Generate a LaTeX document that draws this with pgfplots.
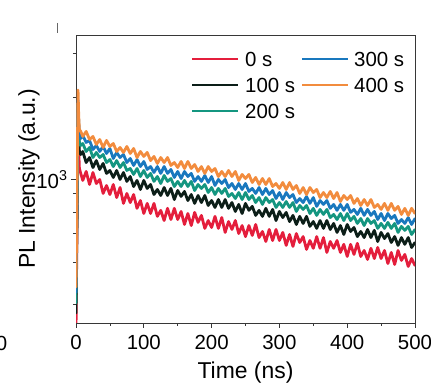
\documentclass[border=0pt]{standalone}
\usepackage{fontspec}
\setmainfont{Liberation Sans}
\usepackage{pgfplots}
\pgfplotsset{compat=1.18}
\usepackage{pgfplotstable}
\definecolor{cR}{RGB}{228,30,60}
\definecolor{cK}{RGB}{12,30,24}
\definecolor{cG}{RGB}{20,150,128}
\definecolor{cB}{RGB}{25,120,190}
\definecolor{cO}{RGB}{242,140,62}
\definecolor{axc}{RGB}{55,55,55}

\pgfplotstableread{
t r k g b o
0 285 328 357 390 408
3 1580 1790 1860 1940 2110
4 1280 1450 1520 1600 1700
5 1096 1263 1362 1456 1518
7 1052 1232 1328 1408 1493
10 992 1263 1350 1444 1432
15 1069 1152 1263 1362 1493
20 959 1201 1306 1385 1396
25 1060 1105 1201 1284 1432
30 967 1171 1253 1328 1339
35 1000 1087 1201 1263 1396
40 890 1143 1232 1317 1306
45 951 1052 1152 1242 1385
50 882 1078 1181 1295 1317
55 959 1017 1114 1191 1350
60 860 1078 1171 1253 1263
65 935 1000 1105 1201 1306
70 819 1060 1152 1232 1253
75 890 984 1078 1152 1317
80 825 1025 1096 1191 1242
85 882 943 1043 1124 1295
90 786 992 1096 1181 1201
95 839 920 1025 1114 1263
100 753 992 1078 1162 1212
105 819 928 1017 1087 1253
110 753 959 1052 1114 1171
115 819 882 984 1060 1212
120 735 920 1025 1114 1143
125 773 875 967 1052 1201
130 710 935 1034 1114 1152
135 786 875 984 1052 1201
140 716 928 1008 1087 1124
145 786 846 943 1017 1152
150 716 912 984 1069 1105
155 766 868 943 1008 1162
160 687 905 992 1069 1096
165 753 839 943 1025 1162
170 681 882 984 1052 1096
175 760 819 912 984 1133
180 699 875 959 1025 1069
185 741 825 928 984 1114
190 665 875 959 1034 1052
195 710 805 897 975 1114
200 670 839 935 1025 1069
205 735 792 882 951 1096
210 665 846 928 1000 1025
215 728 792 890 967 1069
220 643 846 928 1000 1025
225 704 786 868 935 1078
230 659 825 890 967 1025
235 710 766 853 920 1069
240 637 812 897 967 992
245 681 753 846 920 1043
250 621 819 897 967 1008
255 681 773 846 905 1043
260 627 799 875 928 975
265 687 741 825 890 1017
270 616 773 860 935 959
275 648 735 812 882 1008
280 596 786 860 928 959
285 659 735 825 882 1008
290 601 779 846 912 943
295 659 710 792 853 967
300 601 766 825 897 928
305 643 728 792 846 975
310 577 760 832 897 920
315 632 704 792 860 975
320 572 741 825 882 920
325 637 687 766 825 951
330 591 735 805 853 890
335 621 693 779 825 935
340 558 735 805 868 882
345 601 676 753 819 935
350 563 704 786 860 897
355 621 665 741 799 920
360 563 710 779 839 860
365 616 665 747 812 897
370 544 710 779 839 860
375 596 659 728 786 905
380 563 693 747 812 853
385 601 643 716 773 897
390 544 681 753 812 832
395 582 632 710 773 875
400 526 687 753 812 846
405 582 648 710 760 875
410 535 670 735 779 819
415 587 621 693 747 853
420 526 648 722 786 805
425 553 616 681 741 846
430 513 659 722 779 805
435 563 616 693 741 846
440 517 654 710 766 792
445 567 596 665 716 812
450 517 643 693 753 779
455 553 611 665 710 819
460 496 637 699 753 773
465 544 591 665 722 819
470 492 621 693 741 773
475 553 577 643 693 799
480 509 616 676 716 747
485 535 582 654 693 786
490 484 616 676 728 741
495 517 567 632 687 786
500 488 591 659 722 753
}\pldata

\begin{document}
\begin{tikzpicture}
\useasboundingbox (0,0) rectangle (431bp,388bp);
\begin{axis}[
  at={(76bp,65bp)}, anchor=south west,
  scale only axis, width=339bp, height=288bp,
  xmin=0, xmax=500, ymode=log, ymin=302, ymax=3339,
  xtick={0,100,200,300,400,500}, minor x tick num=1,
  ytick={1000}, yticklabels={10\textsuperscript{3}},
  minor ytick={354,502,640,762,894,1990,2873},
  tick align=outside, xtick pos=bottom, ytick pos=left,
  major tick length=5bp, minor tick length=3bp,
  tick style={axc, line width=0.8bp},
  axis line style={axc, line width=0.9bp},
  /pgf/number format/assume math mode=true,
  ticklabel style={font=\fontsize{20.5}{24}\selectfont},
  xticklabel style={yshift=-4bp},
  xlabel={Time (ns)}, ylabel={PL Intensity (a.u.)},
  every axis x label/.style={at={(axis description cs:0.5,-0.1736)}, anchor=center, font=\fontsize{23}{27}\selectfont},
  every axis y label/.style={at={(axis description cs:-0.1386,0.5)}, anchor=center, rotate=90, font=\fontsize{23}{27}\selectfont},
  every axis plot/.append style={line width=2.8bp, line join=round, line cap=round},
]
\addplot[cR] table[x=t,y=r]{\pldata};
\addplot[cK] table[x=t,y=k]{\pldata};
\addplot[cG] table[x=t,y=g]{\pldata};
\addplot[cB] table[x=t,y=b]{\pldata};
\addplot[cO] table[x=t,y=o]{\pldata};
\end{axis}
% legend
\begin{scope}[every node/.style={anchor=west, inner sep=0pt, text height=14.7bp, text depth=0pt, font=\fontsize{20.5}{24}\selectfont}]
\draw[cR, line width=1.5bp] (192bp,329bp) -- (238bp,329bp);
\node at (245bp,329bp) {0 s};
\draw[cK, line width=1.5bp] (192bp,303bp) -- (238bp,303bp);
\node at (245bp,303bp) {100 s};
\draw[cG, line width=1.5bp] (192bp,277bp) -- (238bp,277bp);
\node at (245bp,277bp) {200 s};
\draw[cB, line width=1.5bp] (302bp,329bp) -- (348bp,329bp);
\node at (354bp,329bp) {300 s};
\draw[cO, line width=1.5bp] (302bp,303bp) -- (348bp,303bp);
\node at (354bp,303bp) {400 s};
\end{scope}
\draw[line width=0.8bp, black!60] (57bp,365bp) -- (57bp,355bp);
\node[font=\fontsize{20.5}{24}\selectfont] at (1.5bp,45bp) {0};
\end{tikzpicture}
\end{document}
